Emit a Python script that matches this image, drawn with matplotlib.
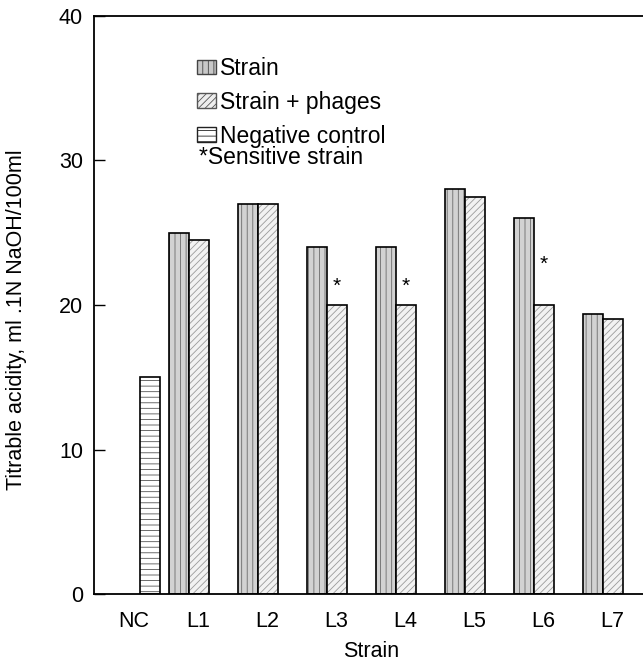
import matplotlib
matplotlib.use("Agg")
import matplotlib.pyplot as plt
from matplotlib.patches import Patch

plt.rcParams["font.family"] = ["Liberation Sans", "DejaVu Sans"]
plt.rcParams["hatch.linewidth"] = 0.6

categories = ["NC", "L1", "L2", "L3", "L4", "L5", "L6", "L7"]
strain = [25, 27, 24, 24, 28, 26, 19.4]
phages = [24.5, 27, 20, 20, 27.5, 20, 19]
neg_control = 15
sensitive = ["L3", "L4", "L6"]
star_y = [21.3, 21.3, 22.8]

fig = plt.figure(figsize=(6.43, 6.64), dpi=100)
ax = fig.add_axes([94 / 643, 1 - 594 / 664, 1 - 94 / 643, (594 - 16) / 664])

w = 0.29
xs = list(range(1, len(categories)))
nc_x = 0.435

# negative control
ax.bar(nc_x, neg_control, w, color="white", edgecolor="#555555", hatch="---", linewidth=0)
ax.bar(nc_x, neg_control, w, fill=False, edgecolor="black", linewidth=1.2)

# strain and strain + phages
sx = [x - w / 2 for x in xs]
px = [x + w / 2 for x in xs]
ax.bar(sx, strain, w, color="#d2d2d2", edgecolor="#6a6a6a", hatch="|||", linewidth=0)
ax.bar(sx, strain, w, fill=False, edgecolor="black", linewidth=1.2)
ax.bar(px, phages, w, color="#f2f2f2", edgecolor="#9a9a9a", hatch="/////", linewidth=0)
ax.bar(px, phages, w, fill=False, edgecolor="black", linewidth=1.2)

for name, y in zip(sensitive, star_y):
    i = categories.index(name) - 1
    ax.text(px[i], y, "*", ha="center", va="center", fontsize=15)

ax.set_xlim(-0.377, 7.58)
ax.set_ylim(0, 40)
ax.set_yticks([0, 10, 20, 30, 40])
ax.set_xticks([0.2] + [x + 0.14 for x in xs])
ax.set_xticklabels(categories)
ax.spines["right"].set_visible(False)
for s in ["left", "top", "bottom"]:
    ax.spines[s].set_linewidth(1.3)
ax.tick_params(axis="y", direction="in", length=8, width=1, labelsize=15.5, pad=8)
ax.tick_params(axis="x", length=0, labelsize=15.5, pad=12)
ax.set_xlabel("Strain", fontsize=15.5)
ax.set_ylabel("Titrable acidity, ml .1N NaOH/100ml", fontsize=15.5)
ax.xaxis.set_label_coords((371 - 94) / 549, -0.082)
ax.yaxis.set_label_coords((27 - 94) / 549, 1 - (320 - 16) / 578)

handles = [
    Patch(facecolor="#c8c8c8", edgecolor="#444444", hatch="|||", label="Strain"),
    Patch(facecolor="#eeeeee", edgecolor="#555555", hatch="/////", label="Strain + phages"),
    Patch(facecolor="white", edgecolor="#222222", hatch="---", label="Negative control"),
]
leg = ax.legend(handles=handles, loc="upper left",
                bbox_to_anchor=((197 - 94) / 549, 1 - (57 - 16) / 578),
                frameon=False, fontsize=16.5, handlelength=0.85, handleheight=0.6,
                handletextpad=0.15, labelspacing=0.47, borderaxespad=0, borderpad=0)
ax.text((199 - 94) / 549, 1 - (157 - 16) / 578, "*Sensitive strain",
        transform=ax.transAxes, fontsize=16.5, va="center", ha="left")

plt.savefig("out.png", dpi=100)
